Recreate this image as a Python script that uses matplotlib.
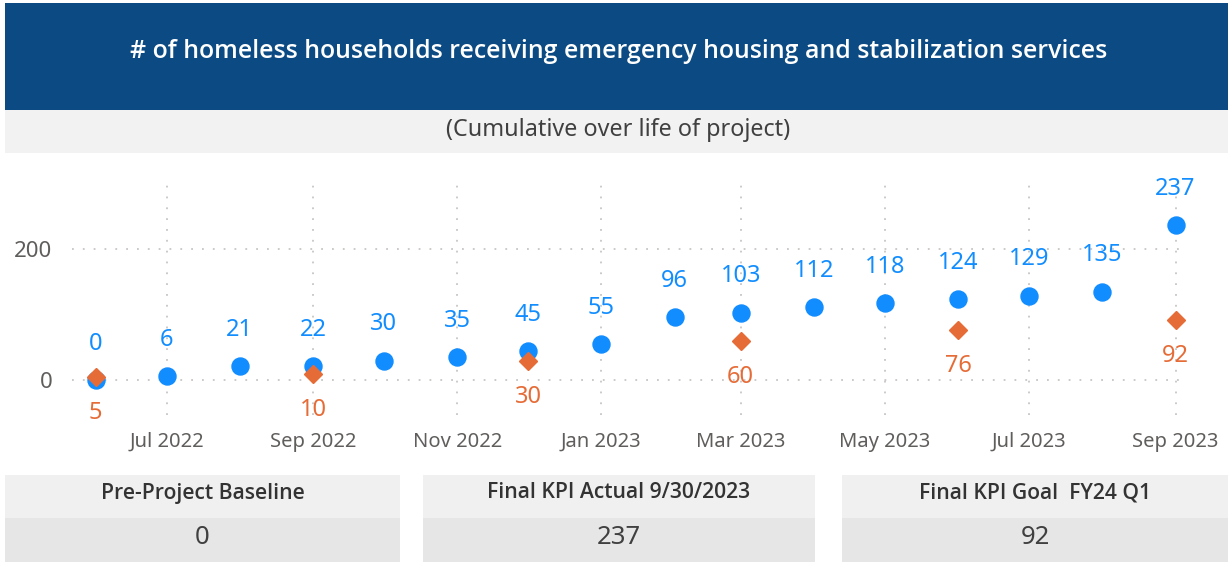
import datetime as dt
import matplotlib
matplotlib.use("Agg")
import matplotlib.pyplot as plt
import matplotlib.dates as mdates
from matplotlib.patches import Rectangle

plt.rcParams["font.family"] = ["Noto Sans", "DejaVu Sans"]

# data
months = [dt.date(2022, 6, 1), dt.date(2022, 7, 1), dt.date(2022, 8, 1), dt.date(2022, 9, 1),
          dt.date(2022, 10, 1), dt.date(2022, 11, 1), dt.date(2022, 12, 1), dt.date(2023, 1, 1),
          dt.date(2023, 2, 1), dt.date(2023, 3, 1), dt.date(2023, 4, 1), dt.date(2023, 5, 1),
          dt.date(2023, 6, 1), dt.date(2023, 7, 1), dt.date(2023, 8, 1), dt.date(2023, 9, 1)]
actual = [0, 6, 21, 22, 30, 35, 45, 55, 96, 103, 112, 118, 124, 129, 135, 237]

goal_months = [dt.date(2022, 6, 1), dt.date(2022, 9, 1), dt.date(2022, 12, 1),
               dt.date(2023, 3, 1), dt.date(2023, 6, 1), dt.date(2023, 9, 1)]
goal = [5, 10, 30, 60, 76, 92]

title = "# of homeless households receiving emergency housing and stabilization services"
subtitle = "(Cumulative over life of project)"
card_titles = ["Pre-Project Baseline", "Final KPI Actual 9/30/2023", "Final KPI Goal  FY24 Q1"]
card_values = ["0", "237", "92"]

blue = "#118DFF"
orange = "#E66C37"
W, H = 1230, 563
bold_font = ["Open Sans", "DejaVu Sans"]


def box(x0, y0, x1, y1):
    # pixel box (top-left origin) -> figure fraction rect
    return (x0 / W, 1 - y1 / H, (x1 - x0) / W, (y1 - y0) / H)


fig = plt.figure(figsize=(12.3, 5.63), dpi=100)
fig.patch.set_facecolor("white")

# banner + subtitle band
r = box(5, 3, 1228, 110)
fig.add_artist(Rectangle(r[:2], *r[2:], transform=fig.transFigure, color="#0B4A82", lw=0))
r = box(5, 110, 1228, 153)
fig.add_artist(Rectangle(r[:2], *r[2:], transform=fig.transFigure, color="#F2F2F2", lw=0))
fig.text(619 / W, 1 - 52 / H, title, color="white", fontsize=17.9, fontweight="semibold",
         family=bold_font, ha="center", va="center")
fig.text(618 / W, 1 - 130 / H, subtitle, color="#404040", fontsize=16.8, ha="center", va="center")

# main scatter
ax = fig.add_axes(box(72, 180, 1185, 415))
ax.scatter(months, actual, s=150, color=blue, zorder=3, clip_on=False)
ax.plot(goal_months, goal, linestyle="none", marker="D", markersize=9, color=orange,
        zorder=4, clip_on=False)
for d, v in zip(months, actual):
    ax.annotate(str(v), (d, v), xytext=(0, 26), textcoords="offset points",
                ha="center", va="center", color=blue, fontsize=17)
for d, v in zip(goal_months, goal):
    ax.annotate(str(v), (d, v), xytext=(0, -26), textcoords="offset points",
                ha="center", va="center", color=orange, fontsize=17)

ax.set_xlim(dt.date(2022, 5, 22), dt.date(2023, 9, 5))
ax.set_ylim(-53, 305)
ax.set_yticks([0, 200])
ax.xaxis.set_major_locator(mdates.MonthLocator(bymonth=[1, 3, 5, 7, 9, 11]))
ax.xaxis.set_major_formatter(mdates.DateFormatter("%b %Y"))
ax.tick_params(length=0, labelcolor="#605E5C")
ax.tick_params(axis="x", labelsize=14.5, pad=12)
ax.tick_params(axis="y", labelsize=16, pad=14)
ax.grid(True, color="#C8C6C4", linestyle=(0, (1, 5)), linewidth=1.3)
ax.set_axisbelow(True)
for s in ax.spines.values():
    s.set_visible(False)

# KPI cards
cards_x = [(5, 400), (423, 815), (842, 1228)]
for (x0, x1), t, v in zip(cards_x, card_titles, card_values):
    r1 = box(x0, 475, x1, 518)
    r2 = box(x0, 518, x1, 562)
    fig.add_artist(Rectangle(r1[:2], *r1[2:], transform=fig.transFigure, color="#F0F0F0", lw=0))
    fig.add_artist(Rectangle(r2[:2], *r2[2:], transform=fig.transFigure, color="#E6E6E6", lw=0))
    cx = (x0 + x1) / 2 / W
    fig.text(cx, 1 - 493 / H, t, color="#333333", fontsize=15.2, fontweight="semibold",
             family=bold_font, ha="center", va="center")
    fig.text(cx, 1 - 537 / H, v, color="#404040", fontsize=18.5, ha="center", va="center")

fig.savefig("out.png", dpi=100)
